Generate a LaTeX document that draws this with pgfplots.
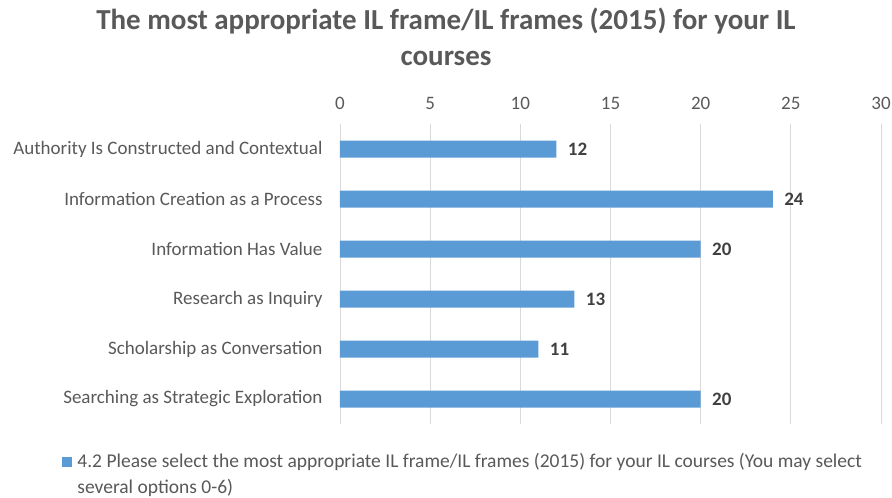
\documentclass[border=0pt]{standalone}
\usepackage{pgfplots}
\pgfplotsset{compat=1.18}
\usepackage{fontspec}
\setmainfont{Carlito}
\definecolor{barblue}{HTML}{5B9BD5}
\definecolor{txtgray}{HTML}{595959}
\definecolor{lblgray}{HTML}{404040}
\definecolor{gridgray}{HTML}{D9D9D9}
\begin{document}
\begin{tikzpicture}
\useasboundingbox (0pt,0pt) rectangle (892pt,-498pt);
\node[font=\fontsize{29}{34}\selectfont\bfseries, text=txtgray, align=center] at (446pt,-37pt)
  {The most appropriate IL frame/IL frames (2015) for your IL\\[2pt]courses};
\begin{axis}[
  at={(340pt,-424pt)}, anchor=south west,
  scale only axis, width=541pt, height=300pt,
  xbar, bar width=17pt,
  xmin=0, xmax=30, xtick={0,5,...,30},
  ymin=-0.5, ymax=5.5, y dir=reverse,
  ytick={0,1,2,3,4,5},
  yticklabels={Authority Is Constructed and Contextual, Information Creation as a Process, Information Has Value, Research as Inquiry, Scholarship as Conversation, Searching as Strategic Exploration},
  xticklabel pos=top,
  axis line style={draw=none},
  major tick length=0pt,
  xmajorgrids, grid style={gridgray, line width=0.8pt},
  tick label style={font=\fontsize{19}{22}\selectfont, text=txtgray},
  /pgf/number format/assume math mode=true,
  xticklabel style={yshift=11pt},
  yticklabel style={xshift=-14pt},
  nodes near coords,
  nodes near coords style={font=\fontsize{19}{22}\selectfont\bfseries, text=lblgray, anchor=west, xshift=8pt},
  point meta=explicit symbolic,
  legend style={at={(-0.519,-0.085)}, anchor=north west, draw=none,
    font=\fontsize{19.5}{26}\selectfont, text=txtgray,
    nodes={align=left}},
  legend cell align=left,
  legend image code/.code={\fill[barblue] (0pt,7.5pt) rectangle (10pt,17.5pt); \path (13pt,12pt);},
]
\addplot[fill=barblue, draw=none] coordinates {
  (12,0) [12] (24,1) [24] (20,2) [20] (13,3) [13] (11,4) [11] (20,5) [20]};
\addlegendentry{4.2 Please select the most appropriate IL frame/IL frames (2015) for your IL courses (You may select\\several options 0-6)}
\end{axis}
\end{tikzpicture}
\end{document}
